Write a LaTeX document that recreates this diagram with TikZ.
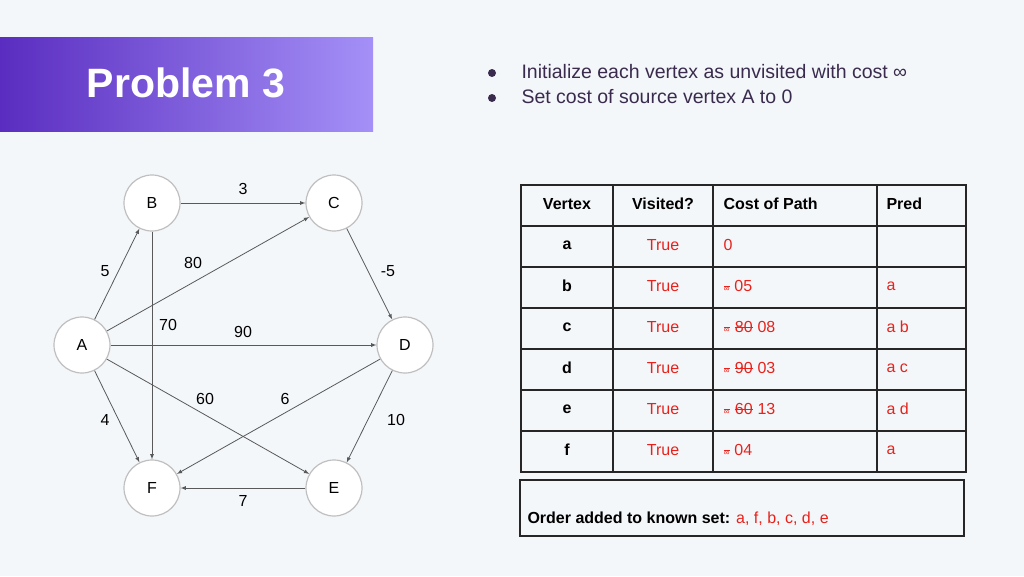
\documentclass[tikz,border=0pt]{standalone}
\usepackage{fontspec}
\setmainfont{Liberation Sans}
\usetikzlibrary{positioning}
\definecolor{bgc}{HTML}{F4F7FA}
\definecolor{txc}{HTML}{3A2B4E}
\definecolor{redc}{HTML}{E8221B}
\definecolor{purl}{HTML}{5A2DC0}
\definecolor{purr}{HTML}{A490F7}
\newcommand{\strk}[1]{\tikz[baseline=(s.base)]{\node[inner sep=0pt,outer sep=0pt] (s) {#1};\draw[redc,line width=0.8pt] ([yshift=0.32em]s.base west) -- ([yshift=0.32em]s.base east);}}
\newcommand{\infs}{\strk{\footnotesize ∞}}
\begin{document}
\begin{tikzpicture}[x=1pt,y=-1pt,>=latex,
  vtx/.style={circle,draw=black!25,fill=white,line width=1.2pt,minimum size=56pt,inner sep=0pt,font=\fontsize{16}{16}\selectfont},
  wt/.style={font=\fontsize{16}{16}\selectfont},
  cell/.style={font=\fontsize{16}{16}\selectfont},
  hd/.style={font=\bfseries\fontsize{16}{16}\selectfont},
  red/.style={cell,text=redc}]
 \fill[bgc] (0,0) rectangle (1024,576);
 \useasboundingbox (0,0) rectangle (1024,576);
 \shade[left color=purl,right color=purr] (0,37) rectangle (373,131);
 \node[text=white,font=\bfseries\fontsize{41}{41}\selectfont] (title) at (186,83) {Problem 3};
 \node[anchor=west,text=txc,font=\fontsize{19.5}{20}\selectfont] (l1) at (518,72) {Initialize each vertex as unvisited with cost ∞};
 \node[anchor=west,text=txc,font=\fontsize{19.5}{20}\selectfont] (l2) at (518,97) {Set cost of source vertex A to 0};
 \fill[txc] (492,73) circle (4) (492,98) circle (4);
 % graph
 \node[vtx] (A) at (82,345) {A};
 \node[vtx] (B) at (152,203) {B};
 \node[vtx] (C) at (334,203) {C};
 \node[vtx] (D) at (405,345) {D};
 \node[vtx] (F) at (152,488) {F};
 \node[vtx] (E) at (334,488) {E};
 \begin{scope}[draw=black!65,line width=0.8pt,->]
  \draw (B) -- (C); \draw (A) -- (B); \draw (A) -- (C); \draw (C) -- (D);
  \draw (A) -- (D); \draw (B) -- (F); \draw (A) -- (F); \draw (A) -- (E);
  \draw (D) -- (F); \draw (D) -- (E); \draw (E) -- (F);
 \end{scope}
 \node[wt] at (243,189) {3};
 \node[wt] at (105,271) {5};
 \node[wt] at (193,263) {80};
 \node[wt] at (388,271) {-5};
 \node[wt] at (243,332) {90};
 \node[wt] at (168,325) {70};
 \node[wt] at (105,420) {4};
 \node[wt] at (205,399) {60};
 \node[wt] at (285,399) {6};
 \node[wt] at (396,420) {10};
 \node[wt] at (243,501) {7};
 % table
 \draw[line width=1.2pt,black!85] (521,185) rectangle (966,472);
 \foreach \x in {613,713,877} \draw[line width=1.2pt,black!85] (\x,185) -- (\x,472);
 \foreach \y in {226,267,308,349,390,431} \draw[line width=1.2pt,black!85] (521,\y) -- (966,\y);
 \node[hd] at (567,204) {Vertex};
 \node[hd] at (663,204) {Visited?};
 \node[hd,anchor=west] at (720,204) {Cost of Path};
 \node[hd,anchor=west] at (883,204) {Pred};
 \foreach \v/\c/\p [count=\i] in {a/0/,b/\infs{} 05/a,c/\infs{} \strk{80} 08/a b,d/\infs{} \strk{90} 03/a c,e/\infs{} \strk{60} 13/a d,f/\infs{} 04/a}{
  \node[hd] at (567,204+41*\i) {\v};
  \node[red] at (663,204+41*\i) {True};
  \node[red,anchor=west] at (720,204+41*\i) {\c};
  \node[red,anchor=west] at (883,204+41*\i) {\p};
 }
 \draw[line width=1.2pt,black!85] (520,480) rectangle (964,536);
 \node[anchor=west,cell] (ord) at (524,519) {\textbf{Order added to known set:} \textcolor{redc}{a, f, b, c, d, e}};
\end{tikzpicture}
\end{document}
